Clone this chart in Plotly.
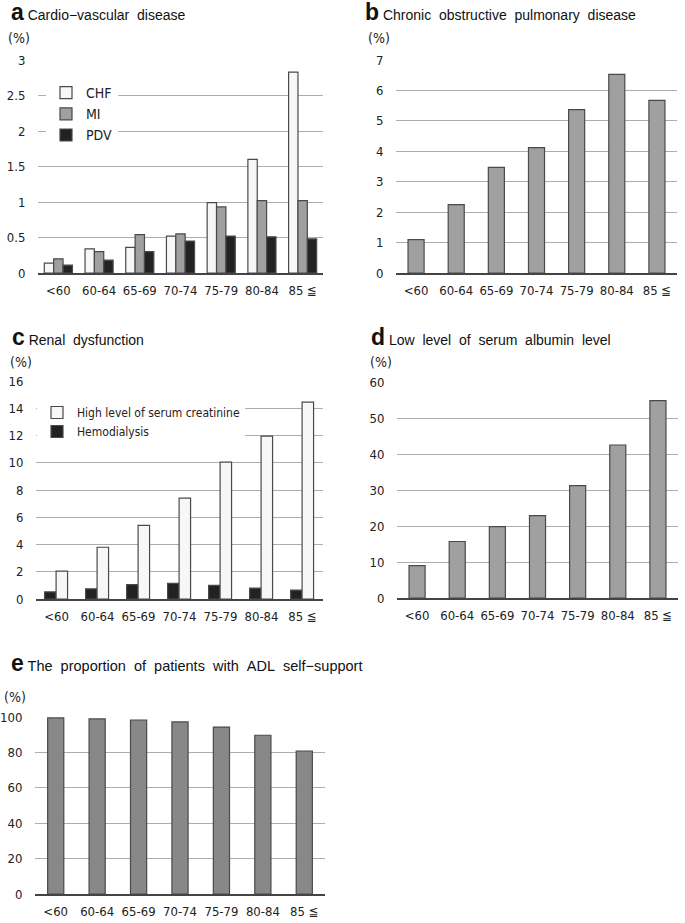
import plotly.graph_objects as go

ages = ["<60", "60-64", "65-69", "70-74", "75-79", "80-84", "85 ≦"]

chf = [0.14, 0.34, 0.36, 0.52, 0.99, 1.60, 2.83]
mi = [0.20, 0.30, 0.54, 0.55, 0.93, 1.02, 1.02]
pdv = [0.11, 0.18, 0.30, 0.45, 0.52, 0.51, 0.48]

copd = [1.10, 2.25, 3.47, 4.12, 5.37, 6.53, 5.67]

hemodialysis = [0.52, 0.75, 1.05, 1.15, 1.00, 0.80, 0.65]
creatinine = [2.05, 3.80, 5.40, 7.40, 10.05, 11.95, 14.45]

albumin = [9.0, 15.7, 19.8, 22.9, 31.2, 42.5, 54.8]

adl = [99.5, 98.9, 98.3, 97.2, 94.3, 89.7, 80.8]

W, H = 685, 923
NARROW = "Liberation Sans Narrow, DejaVu Sans Condensed, Roboto, sans-serif"
TICKFONT = dict(family=NARROW, size=13, color="#222")
TITLEFONT = "Liberation Sans, Arial, sans-serif"
OUT = "#4a4a4a"
GRID = "#adadad"

fig = go.Figure()


def px(x):
    return x / W


def py(y):
    return 1 - y / H


def add_bar(y, name, color, xa, ya, width, offset, legend=None, show=False, rank=1000):
    fig.add_trace(go.Bar(
        x=ages, y=y, name=name, marker=dict(color=color, line=dict(color=OUT, width=1.2)),
        xaxis=xa, yaxis=ya, width=width, offset=offset,
        showlegend=show, legend=legend or "legend", legendrank=rank,
    ))


# a
add_bar(chf, "CHF", "#f7f7f7", "x", "y", 0.23, -0.345, "legend", True, 1)
add_bar(mi, "MI", "#a0a0a0", "x", "y", 0.23, -0.115, "legend", True, 2)
add_bar(pdv, "PDV", "#222222", "x", "y", 0.23, 0.115, "legend", True, 3)
# b
add_bar(copd, "COPD", "#a0a0a0", "x2", "y2", 0.40, -0.20)
# c
add_bar(hemodialysis, "Hemodialysis", "#222222", "x3", "y3", 0.28, -0.29, "legend2", True, 2)
add_bar(creatinine, "High level of serum creatinine", "#f7f7f7", "x3", "y3", 0.28, -0.01, "legend2", True, 1)
# d
add_bar(albumin, "Albumin", "#a0a0a0", "x4", "y4", 0.40, -0.20)
# e
add_bar(adl, "ADL", "#888888", "x5", "y5", 0.39, -0.195)

panels = [
    ("x", "y", (38, 323), (60, 273), 3, 0.5, ["0", "0.5", "1", "1.5", "2", "2.5", "3"]),
    ("x2", "y2", (396, 677), (60, 273), 7, 1, None),
    ("x3", "y3", (36, 323), (381, 599), 16, 2, None),
    ("x4", "y4", (397, 678), (382, 598), 60, 10, None),
    ("x5", "y5", (35, 325), (717, 894), 100, 20, None),
]

layout = {}
for i, (xa, ya, (x0, x1), (y0, y1), ymax, dt, tt) in enumerate(panels):
    xk = "xaxis" if i == 0 else f"xaxis{i+1}"
    yk = "yaxis" if i == 0 else f"yaxis{i+1}"
    layout[xk] = dict(
        domain=[px(x0), px(x1)], anchor=ya, type="category", range=[-0.5, 6.5],
        showline=True, linecolor="#444", linewidth=1.5, showgrid=False,
        tickfont=TICKFONT, ticks="outside", ticklen=5, tickcolor="rgba(0,0,0,0)",
        automargin=False, fixedrange=True,
    )
    yd = dict(
        domain=[py(y1), py(y0)], anchor=xa, range=[0, ymax], dtick=dt, tick0=0,
        showgrid=True, gridcolor=GRID, gridwidth=1.3, griddash="solid", zeroline=False,
        showline=False, tickfont=TICKFONT, ticks="outside", ticklen=9,
        tickcolor="rgba(0,0,0,0)", automargin=False, fixedrange=True,
        layer="below traces",
    )
    if tt:
        yd["tickmode"] = "array"
        yd["tickvals"] = [k * dt for k in range(len(tt))]
        yd["ticktext"] = tt
    layout[yk] = yd

fig.update_layout(**layout)

fig.update_layout(
    width=W, height=H, margin=dict(l=0, r=0, t=0, b=0, autoexpand=False),
    paper_bgcolor="white", plot_bgcolor="white", barmode="overlay",
    legend=dict(x=px(46), y=py(77), xanchor="left", yanchor="top", bgcolor="white",
                font=dict(family=NARROW, size=14, color="#222"),
                tracegroupgap=0, itemwidth=30, traceorder="normal"),
    legend2=dict(x=px(37), y=py(398), xanchor="left", yanchor="top", bgcolor="white",
                 font=dict(family=NARROW, size=12, color="#222"),
                 tracegroupgap=0, itemwidth=30, traceorder="normal"),
)

titles = [
    (9, 12, "a", "Cardio−vascular\u00a0\u00a0disease", 14),
    (363, 12, "b", "Chronic\u00a0\u00a0obstructive\u00a0\u00a0pulmonary\u00a0\u00a0disease", 14),
    (10, 337, "c", "Renal\u00a0\u00a0dysfunction", 14),
    (369, 337, "d", "Low\u00a0\u00a0level\u00a0\u00a0of\u00a0\u00a0serum\u00a0\u00a0albumin\u00a0\u00a0level", 14),
    (9, 663, "e", "The\u00a0\u00a0proportion\u00a0\u00a0of\u00a0\u00a0patients\u00a0\u00a0with\u00a0\u00a0ADL\u00a0\u00a0self−support", 14.5),
]
for x, y, letter, text, fs in titles:
    fig.add_annotation(
        x=px(x), y=py(y), xref="paper", yref="paper", xanchor="left", yanchor="middle",
        showarrow=False,
        text=f"<b><span style='font-size:23px'>{letter}</span></b> {text}",
        font=dict(family=TITLEFONT, size=fs, color="#111"),
    )

units = [(6, 38), (366, 38), (8, 362), (368, 362), (2, 697)]
for x, y in units:
    fig.add_annotation(
        x=px(x), y=py(y), xref="paper", yref="paper", xanchor="left", yanchor="middle",
        showarrow=False, text="(%)", font=dict(family=NARROW, size=14, color="#222"),
    )

fig.write_html(
    "out.html",
    config={"displayModeBar": False},
    post_script="document.body.style.margin='0';document.body.style.padding='0';",
)
